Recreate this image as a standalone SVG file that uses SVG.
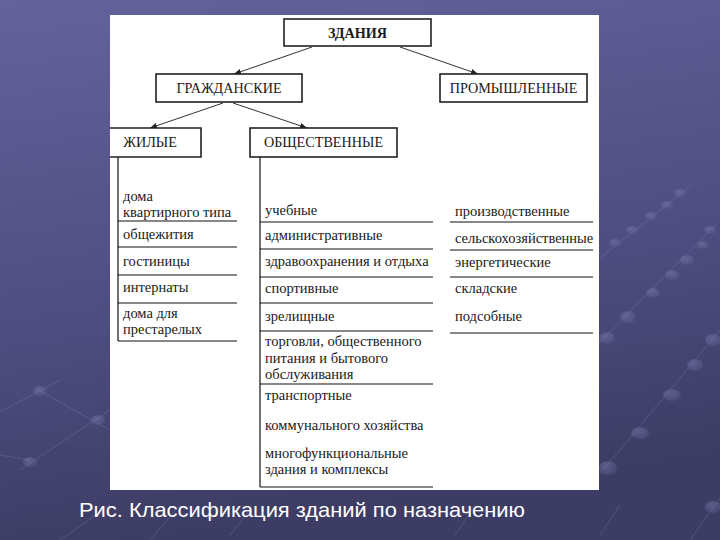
<svg xmlns="http://www.w3.org/2000/svg" width="720" height="540" viewBox="0 0 720 540">
<defs>
<linearGradient id="bg" x1="0" y1="0" x2="0.2" y2="1">
<stop offset="0" stop-color="#64629b"/>
<stop offset="0.6" stop-color="#4e4d80"/>
<stop offset="1" stop-color="#3c3c64"/>
</linearGradient>
<radialGradient id="dot" cx="0.4" cy="0.35" r="0.7">
<stop offset="0" stop-color="#8a8abb"/>
<stop offset="1" stop-color="#5a5a8c"/>
</radialGradient>
<marker id="arr" viewBox="0 0 10 10" refX="10" refY="5" markerWidth="7" markerHeight="7" orient="auto" markerUnits="userSpaceOnUse">
<path d="M0,1 L10,5 L0,9 Z" fill="#222"/>
</marker>
<style>
.box{fill:#fff;stroke:#222;stroke-width:1.6}
.lbl{font-size:14.2px;fill:#1a1a1a;text-anchor:middle}
.it{font-size:14.5px;fill:#1a1a1a}
.sep{stroke:#111;stroke-width:1.2;fill:none}
.con{stroke:#333;stroke-width:1;fill:none}
.deco{stroke:#8080b4;stroke-width:1;fill:none;opacity:0.35}
.dd{fill:url(#dot);opacity:0.4}
.cap{font-size:21px;fill:#fff}
</style>
</defs>
<rect x="0" y="0" width="720" height="540" fill="url(#bg)"/>
<g id="decor">
<path class="deco" d="M692,185 L600,258"/>
<path class="deco" d="M716,224 L596,346"/>
<path class="deco" d="M720,330 L598,476"/>
<path class="deco" d="M720,498 L690,540"/>
<path class="deco" d="M0,412 L60,380 M20,470 L110,410 M40,391 L110,430 M0,455 L30,460 M60,540 L110,505 M150,540 L180,505" opacity="0.2"/>
<path class="deco" d="M230,535 L250,510 M455,535 L475,505 M600,535 L620,505" opacity="0.2"/>
<ellipse class="dd" cx="680" cy="193" rx="6" ry="4"/>
<ellipse class="dd" cx="667" cy="205" rx="6" ry="4"/>
<ellipse class="dd" cx="651" cy="216" rx="6" ry="4"/>
<ellipse class="dd" cx="632" cy="230" rx="6" ry="4"/>
<ellipse class="dd" cx="615" cy="243" rx="6" ry="4"/>
<ellipse class="dd" cx="710" cy="230" rx="6" ry="4"/>
<ellipse class="dd" cx="703" cy="245" rx="6" ry="4"/>
<ellipse class="dd" cx="687" cy="260" rx="7" ry="5"/>
<ellipse class="dd" cx="672" cy="275" rx="7" ry="5"/>
<ellipse class="dd" cx="653" cy="293" rx="7" ry="5"/>
<ellipse class="dd" cx="628" cy="317" rx="8" ry="6"/>
<ellipse class="dd" cx="607" cy="338" rx="8" ry="6"/>
<ellipse class="dd" cx="713" cy="340" rx="8" ry="6"/>
<ellipse class="dd" cx="695" cy="365" rx="8" ry="6"/>
<ellipse class="dd" cx="672" cy="395" rx="9" ry="6"/>
<ellipse class="dd" cx="640" cy="433" rx="9" ry="6"/>
<ellipse class="dd" cx="608" cy="468" rx="9" ry="7"/>
<ellipse class="dd" cx="713" cy="507" rx="8" ry="6"/>
<ellipse class="dd" cx="40" cy="391" rx="7" ry="5" opacity="0.2"/>
<ellipse class="dd" cx="98" cy="420" rx="7" ry="5" opacity="0.2"/>
<ellipse class="dd" cx="30" cy="462" rx="7" ry="5" opacity="0.2"/>
</g>
<rect id="panel" x="110" y="15" width="489" height="475" fill="#fff"/>
<g id="connectors">
<path class="con" d="M312,47 L234,74" marker-end="url(#arr)"/>
<path class="con" d="M400,47 L478,74" marker-end="url(#arr)"/>
<path class="con" d="M223,103 L150,128" marker-end="url(#arr)"/>
<path class="con" d="M233,103 L307,128" marker-end="url(#arr)"/>
<path class="sep" d="M118,157 L118,341"/>
<path class="sep" d="M260,157 L260,487"/>
</g>
<g font-family="'Liberation Serif', 'Times New Roman', serif">
<g id="n-zdaniya">
<rect class="box" x="284" y="19" width="147" height="27"/>
<text class="lbl" x="357.5" y="37.5" font-weight="bold">ЗДАНИЯ</text>
</g>
<g id="n-grazhdanskie">
<rect class="box" x="156" y="74" width="146" height="28"/>
<text class="lbl" x="229" y="93">ГРАЖДАНСКИЕ</text>
</g>
<g id="n-promyshlennye">
<rect class="box" x="440" y="74" width="147" height="28"/>
<text class="lbl" x="513.5" y="93">ПРОМЫШЛЕННЫЕ</text>
</g>
<g id="n-zhilye">
<path class="box" d="M110,128 L201,128 L201,157 L110,157"/>
<text class="lbl" x="150" y="147">ЖИЛЫЕ</text>
</g>
<g id="n-obshchestvennye">
<rect class="box" x="250" y="128" width="147" height="29"/>
<text class="lbl" x="323.5" y="147">ОБЩЕСТВЕННЫЕ</text>
</g>
<g id="list-zhilye">
<text class="it" x="123" y="201">дома</text>
<text class="it" x="123" y="217">квартирного типа</text>
<path class="sep" d="M118,221 H237"/>
<text class="it" x="123" y="239">общежития</text>
<path class="sep" d="M118,247 H237"/>
<text class="it" x="123" y="266">гостиницы</text>
<path class="sep" d="M118,275 H237"/>
<text class="it" x="123" y="292">интернаты</text>
<path class="sep" d="M118,303 H237"/>
<text class="it" x="123" y="318">дома для</text>
<text class="it" x="123" y="334">престарелых</text>
<path class="sep" d="M118,341 H237"/>
</g>
<g id="list-obshchestvennye">
<text class="it" x="265" y="215">учебные</text>
<path class="sep" d="M260,222 H433"/>
<text class="it" x="265" y="240">административные</text>
<path class="sep" d="M260,249 H433"/>
<text class="it" x="265" y="266">здравоохранения и отдыха</text>
<path class="sep" d="M260,277 H433"/>
<text class="it" x="265" y="293">спортивные</text>
<path class="sep" d="M260,303 H433"/>
<text class="it" x="265" y="321">зрелищные</text>
<path class="sep" d="M260,331 H433"/>
<text class="it" x="265" y="346">торговли, общественного</text>
<text class="it" x="265" y="363">питания и бытового</text>
<text class="it" x="265" y="379">обслуживания</text>
<path class="sep" d="M260,384 H433"/>
<text class="it" x="265" y="400">транспортные</text>
<text class="it" x="265" y="430">коммунального хозяйства</text>
<text class="it" x="265" y="458">многофункциональные</text>
<text class="it" x="265" y="474">здания и комплексы</text>
<path class="sep" d="M260,487 H433"/>
</g>
<g id="list-promyshlennye">
<text class="it" x="455" y="216">производственные</text>
<path class="sep" d="M450,222 H593"/>
<text class="it" x="455" y="243">сельскохозяйственные</text>
<path class="sep" d="M450,250 H593"/>
<text class="it" x="455" y="267">энергетические</text>
<path class="sep" d="M450,277 H593"/>
<text class="it" x="455" y="293">складские</text>
<text class="it" x="455" y="321">подсобные</text>
<path class="sep" d="M450,333 H593"/>
</g>
</g>
<text class="cap" font-family="'Liberation Sans', Arial, sans-serif" x="79" y="517" textLength="446" lengthAdjust="spacingAndGlyphs">Рис. Классификация зданий по назначению</text>
</svg>
